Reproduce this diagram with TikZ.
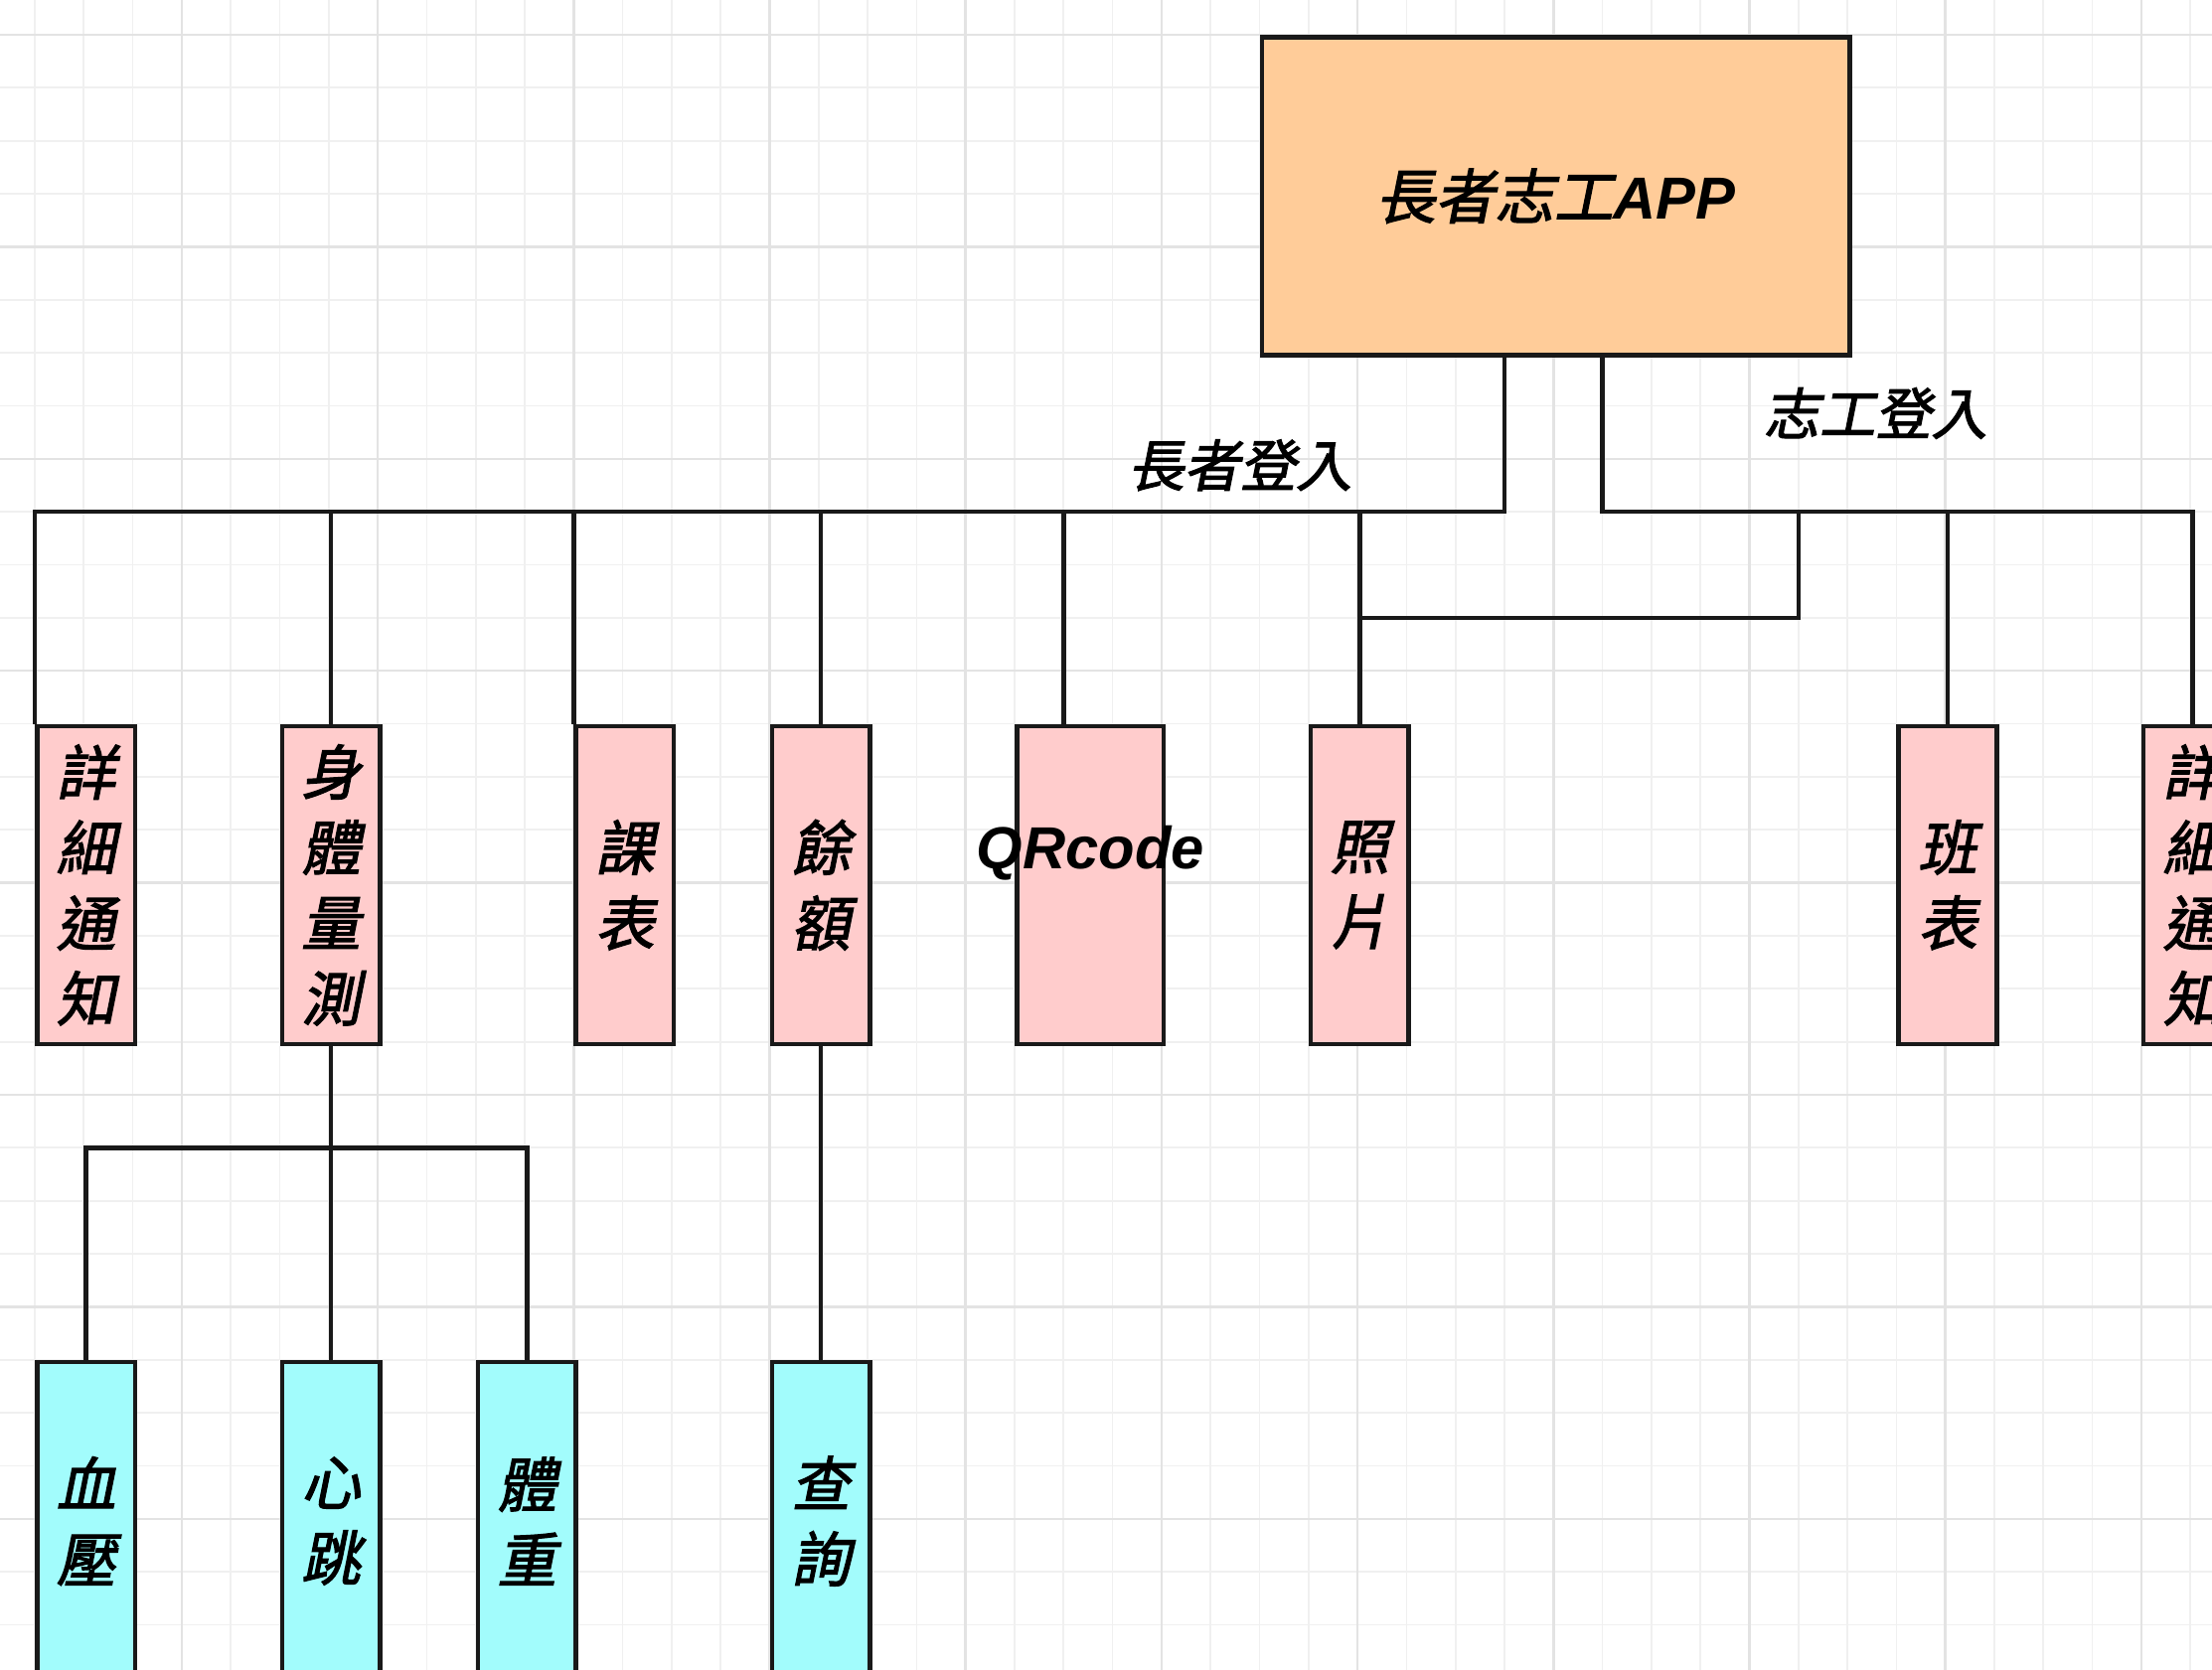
\documentclass[tikz,border=0pt]{standalone}
\usepackage{fontspec}
\usepackage{xcolor}
\usetikzlibrary{positioning}

\newfontfamily\cjk[FakeSlant=0.2,FakeBold=2]{Noto Sans CJK TC}
\newfontfamily\lat{Liberation Sans}

\definecolor{appfill}{HTML}{FFCC99}
\definecolor{pinkfill}{HTML}{FFCCCC}
\definecolor{cyanfill}{HTML}{A2FCFC}
\definecolor{minorgray}{HTML}{F0F0F0}
\definecolor{majorgray}{HTML}{E3E3E3}

\tikzset{
  gridfine/.style={draw=minorgray, line width=0.5pt},
  gridbold/.style={draw=majorgray, line width=0.7pt},
  box/.style={draw=black!90, line width=1.3pt, inner sep=0pt, anchor=north west,
    align=center, font=\cjk\fontsize{17}{21.6}\selectfont},
  pinkbox/.style={box, fill=pinkfill, minimum width=0.986cm, minimum height=3.201cm},
  bluebox/.style={box, fill=cyanfill, minimum width=0.986cm, minimum height=3.201cm},
  lbl/.style={inner sep=0pt, font=\cjk\fontsize{16}{19}\selectfont},
  conn/.style={draw=black!90, line width=1.3pt}
}

\begin{document}
\begin{tikzpicture}[x=0.493cm, y=-0.5335cm]

    \useasboundingbox (-0.71,-0.656) rectangle (44.442,30.853);
    \clip (-0.71,-0.656) rectangle (44.442,30.853);
    \fill[white] (-0.71,-0.656) rectangle (44.442,30.853);

    % Grade de fundo
    \foreach \i in {-1,...,45} { \draw[gridfine] (\i,-1) -- (\i,31); }
    \foreach \j in {-1,...,31} { \draw[gridfine] (-1,\j) -- (45,\j); }
    \foreach \i in {-1,3,...,43} { \draw[gridbold] (\i,-1) -- (\i,31); }
    \foreach \j in {0,4,...,28} { \draw[gridbold] (-1,\j) -- (45,\j); }

    % Caixa principal
    \node[box, fill=appfill, minimum width=5.916cm, minimum height=3.201cm] (app) at (25,0)
      {長者志工{\lat\bfseries\itshape APP}};

    % Primeiro nivel
    \foreach \nome/\x/\txt in {notify/0/{詳\\細\\通\\知}, body/5/{身\\體\\量\\測},
        course/11/{課\\表}, balance/15/{餘\\額}, photo/26/{照\\片},
        shift/38/{班\\表}, notifyR/43/{詳\\細\\通\\知}} {
      \node[pinkbox] (\nome) at (\x,13) {\txt};
    }
    \node[pinkbox, minimum width=1.479cm] (qr) at (20,13) {};
    \node[inner sep=0pt, font=\lat\bfseries\itshape\fontsize{17}{20}\selectfont] (qrtxt)
      at ([yshift=0.32cm]qr.center) {QRcode};

    % Segundo nivel
    \foreach \nome/\x/\txt in {bp/0/{血\\壓}, heart/5/{心\\跳}, weight/9/{體\\重}, query/15/{查\\詢}} {
      \node[bluebox] (\nome) at (\x,25) {\txt};
    }

    % Rotulos
    \node[lbl] (eldlbl) at (24.6,8.12) {長者登入};
    \node[lbl] (vollbl) at (37.57,7.14) {志工登入};

    % Ramo dos idosos
    \coordinate (eroot) at (30,9);
    \coordinate (qrtop) at (21,13);
    \draw[conn] (app.south -| eroot) -- (eroot) -- (eroot -| notify.north west) -- (notify.north west);
    \foreach \n in {body, balance, photo} { \draw[conn] (\n.north) -- (\n.north |- eroot); }
    \draw[conn] (course.north west) -- (course.north west |- eroot);
    \draw[conn] (qrtop) -- (qrtop |- eroot);

    % Ramo dos voluntarios
    \coordinate (vroot) at (32,9);
    \coordinate (vjoin) at (36,11);
    \draw[conn] (app.south -| vroot) -- (vroot) -- (vroot -| notifyR.north) -- (notifyR.north);
    \draw[conn] (shift.north) -- (shift.north |- vroot);
    \draw[conn] (vjoin |- vroot) -- (vjoin) -- (vjoin -| photo.north);

    % Medicoes
    \coordinate (broot) at (6,21);
    \draw[conn] (body.south) -- (heart.north);
    \draw[conn] (bp.north) -- (bp.north |- broot) -- (broot -| weight.north) -- (weight.north);
    \draw[conn] (balance.south) -- (query.north);

\end{tikzpicture}
\end{document}
